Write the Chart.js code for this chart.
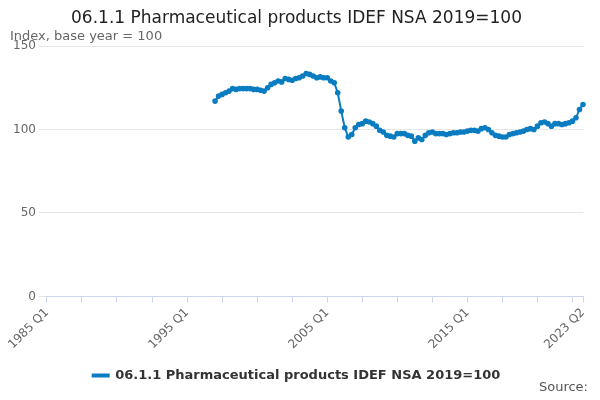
<!DOCTYPE html>
<html>
<head>
<script src="https://cdn.jsdelivr.net/npm/chart.js"></script>
<style>
body{margin:0;font-family:"DejaVu Sans",sans-serif;}
#wrap{position:relative;width:600px;height:400px;}
#src{position:absolute;right:12px;bottom:6px;font-size:13px;color:#555;}
</style>
</head>
<body>
<div id="wrap"><canvas id="c" width="600" height="400"></canvas><div id="src">Source:</div></div>
<script>
const firstYear = 1985, lastYear = 2023, lastQuarter = 2;
const startLabel = '1997 Q1';
const shownLabels = ['1985 Q1', '1995 Q1', '2005 Q1', '2015 Q1', '2023 Q2'];
const values = [
  117, 120, 121, 122,
  123, 124.5, 124, 124.5,
  124.5, 124.5, 124.5, 124,
  124, 123.5, 123, 125,
  127, 128, 129, 128.5,
  130.5, 130, 129.5, 130.5,
  131, 132, 133.5, 133,
  132, 131, 131.5, 131,
  131, 129, 128, 122,
  111, 101, 95.5, 97,
  101, 103, 103.5, 105,
  104.5, 103.5, 102, 99.5,
  98.5, 96.5, 96, 95.5,
  97.5, 97.5, 97.5, 96.5,
  96, 93, 95, 94,
  96.5, 98, 98.5, 97.5,
  97.5, 97.5, 97, 97.5,
  98, 98, 98.5, 98.5,
  99, 99.5, 99.5, 99,
  100.5, 101, 100, 98,
  96.5, 96, 95.5, 95.5,
  97, 97.5, 98, 98.5,
  99, 100, 100.5, 100,
  102, 104, 104.5, 103.5,
  102, 103.5, 103.5, 103,
  103.5, 104, 105, 107,
  112, 115
];

const labels = [];
for (let y = firstYear; y <= lastYear; y++) {
  for (let q = 1; q <= 4; q++) {
    if (y === lastYear && q > lastQuarter) break;
    labels.push(y + ' Q' + q);
  }
}
const offset = labels.indexOf(startLabel);
const series = labels.map((l, i) => i >= offset ? values[i - offset] : null);
const lastIdx = labels.length - 1;

new Chart(document.getElementById('c'), {
  type: 'line',
  data: {
    labels: labels,
    datasets: [{
      label: '06.1.1 Pharmaceutical products IDEF NSA 2019=100',
      data: series,
      borderColor: '#0a7cc1',
      backgroundColor: '#0a7cc1',
      borderWidth: 2,
      pointRadius: 1.8,
      pointHoverRadius: 3,
      tension: 0
    }]
  },
  options: {
    responsive: false,
    animation: false,
    layout: { padding: { left: 10, right: 17, top: 0, bottom: 8 } },
    plugins: {
      title: {
        display: true, text: '06.1.1 Pharmaceutical products IDEF NSA 2019=100',
        color: '#222', font: { size: 17, family: 'DejaVu Sans', weight: 'normal' },
        padding: { top: 8, bottom: 0 }
      },
      subtitle: {
        display: true, text: 'Index, base year = 100', align: 'start',
        color: '#666', font: { size: 13, family: 'DejaVu Sans' },
        padding: { top: 0, bottom: 2 }
      },
      legend: {
        position: 'bottom',
        labels: {
          color: '#333', font: { size: 13, family: 'DejaVu Sans', weight: 'bold' },
          boxWidth: 16, boxHeight: 2, padding: 14
        }
      },
      tooltip: { enabled: false }
    },
    scales: {
      x: {
        grid: {
          drawOnChartArea: false, tickLength: 6,
          color: ctx => (ctx.index % 10 === 0 || ctx.index === lastIdx) ? '#ccd6eb' : 'rgba(0,0,0,0)'
        },
        border: { color: '#ccd6eb' },
        ticks: {
          autoSkip: false, maxRotation: 45, minRotation: 45,
          color: '#666', font: { size: 12, family: 'DejaVu Sans' },
          callback: (v, i) => shownLabels.includes(labels[i]) ? labels[i] : ''
        }
      },
      y: {
        min: 0, max: 150,
        ticks: { stepSize: 50, color: '#666', font: { size: 12, family: 'DejaVu Sans' } },
        grid: { color: '#e6e6e6' },
        border: { display: false }
      }
    }
  }
});
</script>
</body>
</html>
